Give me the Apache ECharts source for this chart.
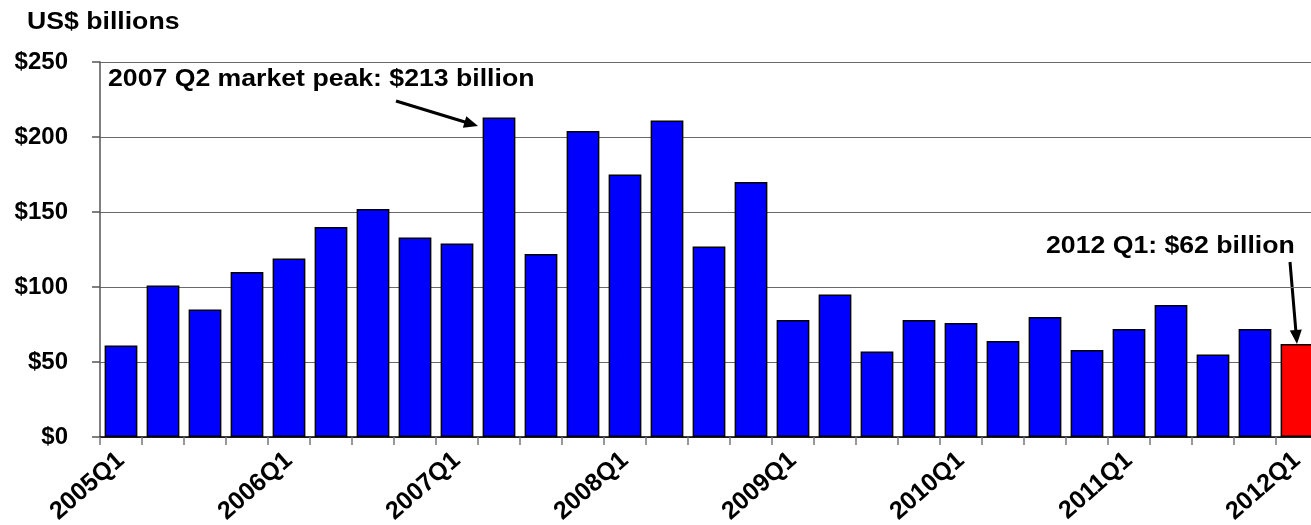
<!DOCTYPE html>
<html>
<head>
<meta charset="utf-8">
<script src="https://cdn.jsdelivr.net/npm/echarts@6/dist/echarts.min.js"></script>
<style>
  html, body { margin: 0; padding: 0; background: #fff; }
  #chart { width: 1311px; height: 525px; }
</style>
</head>
<body>
<div id="chart"></div>
<script>
// quarterly values, US$ billions
const quarters = [
  "2005Q1", "2005Q2", "2005Q3", "2005Q4",
  "2006Q1", "2006Q2", "2006Q3", "2006Q4",
  "2007Q1", "2007Q2", "2007Q3", "2007Q4",
  "2008Q1", "2008Q2", "2008Q3", "2008Q4",
  "2009Q1", "2009Q2", "2009Q3", "2009Q4",
  "2010Q1", "2010Q2", "2010Q3", "2010Q4",
  "2011Q1", "2011Q2", "2011Q3", "2011Q4",
  "2012Q1"
];
const values = [
  61, 101, 85, 110,
  119, 140, 152, 133,
  129, 213, 122, 204,
  175, 211, 127, 170,
  78, 95, 57, 78,
  76, 64, 80, 58,
  72, 88, 55, 72,
  62
];
const highlightIndex = 28; // latest quarter, drawn in red
const yTicks = [0, 50, 100, 150, 200, 250];

const FONT = '"Liberation Sans", Arial, sans-serif';

const chart = echarts.init(document.getElementById("chart"));

// simple arrow: line plus a triangle head
function arrow(x1, y1, x2, y2) {
  const dx = x2 - x1, dy = y2 - y1;
  const len = Math.sqrt(dx * dx + dy * dy);
  const ux = dx / len, uy = dy / len;
  const headLen = 14, headHalf = 6;
  const bx = x2 - ux * headLen, by = y2 - uy * headLen;
  return {
    type: "group",
    children: [
      {
        type: "line",
        shape: { x1: x1, y1: y1, x2: bx + ux * 2, y2: by + uy * 2 },
        style: { stroke: "#000", lineWidth: 3 }
      },
      {
        type: "polygon",
        shape: {
          points: [
            [x2, y2],
            [bx - uy * headHalf, by + ux * headHalf],
            [bx + uy * headHalf, by - ux * headHalf]
          ]
        },
        style: { fill: "#000" }
      }
    ]
  };
}

function label(text, x, y) {
  return {
    type: "text",
    x: x,
    y: y,
    scaleX: 1.11,
    style: {
      text: text,
      fill: "#000",
      font: "bold 24px " + FONT,
      verticalAlign: "middle"
    }
  };
}

const option = {
  animation: false,
  grid: {
    left: 100,
    top: 62,
    width: 1218,
    height: 375,
    containLabel: false,
    outerBoundsMode: "none"
  },
  xAxis: {
    type: "category",
    data: quarters,
    boundaryGap: true,
    axisLine: { show: true, lineStyle: { color: "#000", width: 1.5 } },
    axisTick: {
      show: true,
      interval: 0,
      length: 8,
      lineStyle: { color: "#777", width: 1.5 }
    },
    axisLabel: {
      interval: 3,
      rotate: 41,
      margin: 20,
      color: "#000",
      fontFamily: FONT,
      fontWeight: "bold",
      fontSize: 25
    }
  },
  yAxis: {
    type: "value",
    min: yTicks[0],
    max: yTicks[yTicks.length - 1],
    interval: 50,
    axisLine: { show: true, lineStyle: { color: "#555", width: 1.5 } },
    axisTick: { show: true, length: 8, lineStyle: { color: "#555", width: 1.5 } },
    splitLine: { show: true, lineStyle: { color: "#6a6a6a", width: 1.2 } },
    axisLabel: {
      margin: 32,
      color: "#000",
      fontFamily: FONT,
      fontWeight: "bold",
      fontSize: 24,
      formatter: (v) => "$" + v
    }
  },
  series: [
    {
      type: "bar",
      barCategoryGap: "22%",
      data: values.map((v, i) => ({
        value: v,
        itemStyle: { color: i === highlightIndex ? "#ff0000" : "#0000ff" }
      })),
      itemStyle: { borderColor: "#000", borderWidth: 1.5 }
    }
  ],
  graphic: [
    label("US$ billions", 27, 22),
    label("2007 Q2 market peak: $213 billion", 108, 79),
    arrow(396, 101, 478, 126),
    label("2012 Q1: $62 billion", 1046, 246),
    arrow(1290, 262, 1297, 344)
  ]
};

chart.setOption(option);
</script>
</body>
</html>
